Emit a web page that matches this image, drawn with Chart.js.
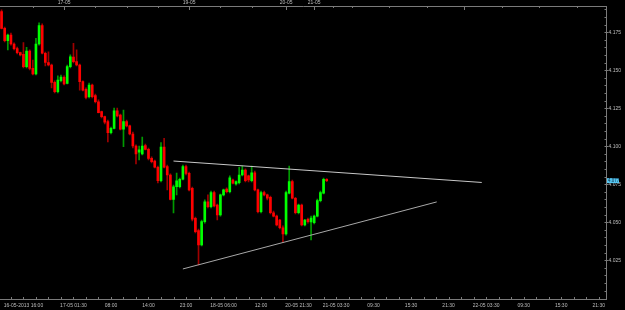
<!DOCTYPE html>
<html><head><meta charset="utf-8">
<script src="https://cdn.jsdelivr.net/npm/chart.js@4/dist/chart.umd.min.js"></script>
<style>html,body{margin:0;padding:0;background:#000;overflow:hidden}canvas{display:block}</style>
</head><body>
<canvas id="c" width="625" height="310"></canvas>
<script>
// ---- candle data (M30) ----
const open  = [4.1887,4.1776,4.1695,4.1732,4.1673,4.1643,4.1616,4.1605,4.1524,4.1627,
               4.1513,4.1476,4.1673,4.1795,4.1612,4.1551,4.1535,4.1420,4.1359,4.1432,
               4.1454,4.1414,4.1524,4.1587,4.1557,4.1535,4.1425,4.1375,4.1326,4.1403,
               4.1333,4.1293,4.1228,4.1195,4.1162,4.1090,4.1118,4.1234,4.1206,4.1112,
               4.1162,4.1134,4.1081,4.1002,4.0962,4.0949,4.1004,4.0980,4.0921,4.0903,
               4.0862,4.0774,4.0995,4.0866,4.0811,4.0651,4.0734,4.0734,4.0783,4.0866,
               4.0822,4.0724,4.0526,4.0445,4.0351,4.0504,4.0635,4.0603,4.0695,4.0614,
               4.0548,4.0680,4.0719,4.0701,4.0778,4.0752,4.0760,4.0811,4.0844,4.0805,
               4.0774,4.0826,4.0713,4.0570,4.0695,4.0680,4.0664,4.0563,4.0541,4.0515,
               4.0464,4.0423,4.0691,4.0767,4.0658,4.0563,4.0614,4.0482,4.0520,4.0502,
               4.0497,4.0541,4.0642,4.0691,4.0783];
const high  = [4.1897,4.1785,4.1739,4.1745,4.1680,4.1653,4.1620,4.1682,4.1651,4.1634,
               4.1568,4.1711,4.1813,4.1805,4.1620,4.1622,4.1541,4.1430,4.1463,4.1469,
               4.1463,4.1535,4.1601,4.1678,4.1634,4.1541,4.1430,4.1384,4.1416,4.1410,
               4.1344,4.1305,4.1232,4.1199,4.1173,4.1127,4.1252,4.1252,4.1212,4.1239,
               4.1173,4.1140,4.1094,4.1009,4.1002,4.1061,4.1015,4.0989,4.0930,4.0910,
               4.0870,4.1024,4.1053,4.0877,4.0818,4.0745,4.0824,4.0791,4.0877,4.0877,
               4.0831,4.0732,4.0535,4.0456,4.0515,4.0647,4.0680,4.0706,4.0706,4.0620,
               4.0686,4.0719,4.0726,4.0805,4.0785,4.0772,4.0862,4.0870,4.0851,4.0811,
               4.0870,4.0837,4.0719,4.0706,4.0706,4.0686,4.0673,4.0574,4.0548,4.0520,
               4.0476,4.0706,4.0870,4.0778,4.0664,4.0620,4.0620,4.0520,4.0528,4.0541,
               4.0548,4.0653,4.0706,4.0791,4.0788];
const low   = [4.1772,4.1686,4.1634,4.1666,4.1634,4.1607,4.1594,4.1515,4.1515,4.1502,
               4.1469,4.1469,4.1666,4.1607,4.1528,4.1528,4.1384,4.1351,4.1351,4.1423,
               4.1403,4.1410,4.1515,4.1548,4.1528,4.1370,4.1364,4.1311,4.1318,4.1318,
               4.1285,4.1219,4.1186,4.1147,4.1028,4.1081,4.1114,4.1193,4.1107,4.0997,
               4.1127,4.1074,4.0989,4.0884,4.0910,4.0943,4.0976,4.0910,4.0890,4.0857,
               4.0759,4.0765,4.0857,4.0713,4.0647,4.0561,4.0680,4.0726,4.0778,4.0811,
               4.0706,4.0509,4.0430,4.0219,4.0344,4.0495,4.0594,4.0594,4.0601,4.0515,
               4.0541,4.0673,4.0693,4.0693,4.0752,4.0745,4.0752,4.0805,4.0765,4.0765,
               4.0765,4.0706,4.0561,4.0561,4.0673,4.0647,4.0555,4.0535,4.0476,4.0456,
               4.0370,4.0416,4.0686,4.0653,4.0555,4.0555,4.0476,4.0476,4.0495,4.0384,
               4.0489,4.0535,4.0634,4.0686,4.0768];
const close = [4.1776,4.1695,4.1732,4.1673,4.1643,4.1616,4.1601,4.1524,4.1627,4.1513,
               4.1476,4.1673,4.1795,4.1612,4.1551,4.1535,4.1420,4.1359,4.1436,4.1456,
               4.1410,4.1524,4.1589,4.1557,4.1535,4.1425,4.1370,4.1322,4.1403,4.1326,
               4.1293,4.1221,4.1195,4.1158,4.1090,4.1118,4.1234,4.1199,4.1112,4.1162,
               4.1134,4.1081,4.1002,4.0949,4.0976,4.1002,4.0980,4.0921,4.0899,4.0862,
               4.0774,4.0995,4.0862,4.0811,4.0651,4.0734,4.0772,4.0783,4.0866,4.0822,
               4.0713,4.0520,4.0438,4.0351,4.0504,4.0635,4.0603,4.0695,4.0607,4.0548,
               4.0680,4.0713,4.0701,4.0793,4.0757,4.0767,4.0811,4.0844,4.0774,4.0778,
               4.0826,4.0713,4.0570,4.0695,4.0680,4.0658,4.0563,4.0541,4.0482,4.0464,
               4.0423,4.0695,4.0767,4.0658,4.0563,4.0614,4.0482,4.0515,4.0504,4.0528,
               4.0541,4.0642,4.0695,4.0783,4.0774];

// ---- axes ----
const slotCount = 194;
const bottomLabelIdx = [7,23,35,47,59,71,83,95,107,119,131,143,155,167,179,191];
const bottomLabels = ["16-05-2013 16:00","17-05 01:30","08:00","14:00","23:00","18-05 06:00","12:00","20-05 21:30","21-05 03:30","09:30","15:30","21:30","22-05 03:30","09:30","15:30","21:30"];
const topLabelIdx = [20,60,91,100];
const topLabels = ["17-05","19-05","20-05","21-05"];
const topMinorIdx = [10,30,40,50,70,80,106,112,124,136,160,172,184];
const topMajorIdx = [20,60,91,100,148];
const priceTicks = [4.025,4.050,4.075,4.100,4.125,4.150,4.175];
const priceMin = 3.9992, priceMax = 4.1923;

// ---- trend lines ----
const upperLine = [{x:55.0,y:4.0903},{x:153.6,y:4.0762}];
const lowerLine = [{x:58.0,y:4.0193},{x:139.2,y:4.0634}];

const UP = '#00ff00', DOWN = '#ff0000', UPW = '#009a00', DOWNW = '#a00000';
const axisCol = '#7a7a7a', txtCol = '#bdbdbd';
const FONT = 'Liberation Sans';

const bodies = open.map((o,i)=>({x:i, y:[o, close[i]]}));
const wicks = open.map((o,i)=>({x:i, y:[low[i], high[i]]}));
const up = i => close[i] >= open[i];

const tickPlugin = {
  id:'tickMarks',
  afterDraw(chart){
    const ctx = chart.ctx, ca = chart.chartArea;
    const xs = chart.scales.x, ys = chart.scales.y;
    ctx.save();
    ctx.strokeStyle = axisCol; ctx.lineWidth = 1;
    ctx.beginPath();
    for (let v = 3; v < slotCount; v += 4){
      const px = Math.round(xs.getPixelForValue(v)) + 0.5;
      ctx.moveTo(px, ca.bottom); ctx.lineTo(px, ca.bottom - 2.5);
    }
    topMinorIdx.forEach(v=>{const px=Math.round(xs.getPixelForValue(v))+0.5; ctx.moveTo(px, ca.top); ctx.lineTo(px, ca.top+2);});
    topMajorIdx.forEach(v=>{const px=Math.round(xs.getPixelForValue(v))+0.5; ctx.moveTo(px, ca.top); ctx.lineTo(px, ca.top+4);});
    for (let k = 1; k < 40; k++){
      const p = 4.000 + k*0.005;
      if (p > priceMax) break;
      const py = Math.round(ys.getPixelForValue(p)) + 0.5;
      const major = k % 5 === 0;
      ctx.moveTo(ca.right - 2, py); ctx.lineTo(ca.right + (major ? 2 : 0), py);
    }
    ctx.stroke();
    // current price tag
    const last = close[close.length-1];
    const py = ys.getPixelForValue(last);
    ctx.fillStyle = '#56c6f0';
    ctx.fillRect(ca.right + 0.5, py - 2.5, 12, 5);
    ctx.fillStyle = '#0a2a40';
    ctx.font = '4.5px "'+FONT+'"';
    ctx.textBaseline = 'middle';
    ctx.fillText(last.toFixed(3), ca.right + 1.5, py + 0.2);
    ctx.restore();
  }
};

new Chart(document.getElementById('c'), {
  type:'bar',
  data:{ datasets:[
    { type:'line', data:upperLine, borderColor:'#c8c8c8', borderWidth:1, pointRadius:0, order:-2, xAxisID:'x', yAxisID:'y' },
    { type:'line', data:lowerLine, borderColor:'#a8a8a8', borderWidth:1, pointRadius:0, order:-1, xAxisID:'x', yAxisID:'y' },
    { data:bodies, grouped:false, barThickness:2, borderWidth:0, order:0,
      backgroundColor: c => up(c.dataIndex) ? UP : DOWN, xAxisID:'x', yAxisID:'y' },
    { data:wicks, grouped:false, barThickness:1, borderWidth:0, order:1,
      backgroundColor: c => up(c.dataIndex) ? UPW : DOWNW, xAxisID:'x', yAxisID:'y' }
  ]},
  options:{
    responsive:false, animation:false, devicePixelRatio:1,
    layout:{padding:0},
    plugins:{legend:{display:false}, tooltip:{enabled:false}},
    scales:{
      x:{ type:'linear', position:'bottom', min:-0.5, max:slotCount-0.5, offset:false,
          grid:{display:true, drawOnChartArea:false, drawTicks:false, offset:false},
          border:{display:true, color:axisCol, width:1},
          afterBuildTicks: s => { s.ticks = bottomLabelIdx.map(v=>({value:v})); },
          afterFit: s => { s.height = 10.5; },
          ticks:{ autoSkip:false, maxRotation:0, minRotation:0, padding:3, color:txtCol,
                  font:{family:FONT, size:5}, callback:(v,i)=>bottomLabels[i] } },
      xTop:{ type:'linear', position:'top', min:-0.5, max:slotCount-0.5, offset:false,
          grid:{display:true, drawOnChartArea:false, drawTicks:false, offset:false},
          border:{display:true, color:axisCol, width:1},
          afterBuildTicks: s => { s.ticks = topLabelIdx.map(v=>({value:v})); },
          afterFit: s => { s.height = 6; },
          ticks:{ autoSkip:false, maxRotation:0, minRotation:0, padding:0, color:txtCol,
                  font:{family:FONT, size:5}, callback:(v,i)=>topLabels[i] } },
      y:{ type:'linear', position:'right', min:priceMin, max:priceMax,
          grid:{display:true, drawOnChartArea:false, drawTicks:false},
          border:{display:true, color:axisCol, width:1},
          afterBuildTicks: s => { s.ticks = priceTicks.map(v=>({value:v})); },
          afterFit: s => { s.width = 18.5; },
          ticks:{ padding:2, color:txtCol, font:{family:FONT, size:5}, callback:v=>Number(v).toFixed(3) } }
    }
  },
  plugins:[tickPlugin]
});
</script>
</body></html>
